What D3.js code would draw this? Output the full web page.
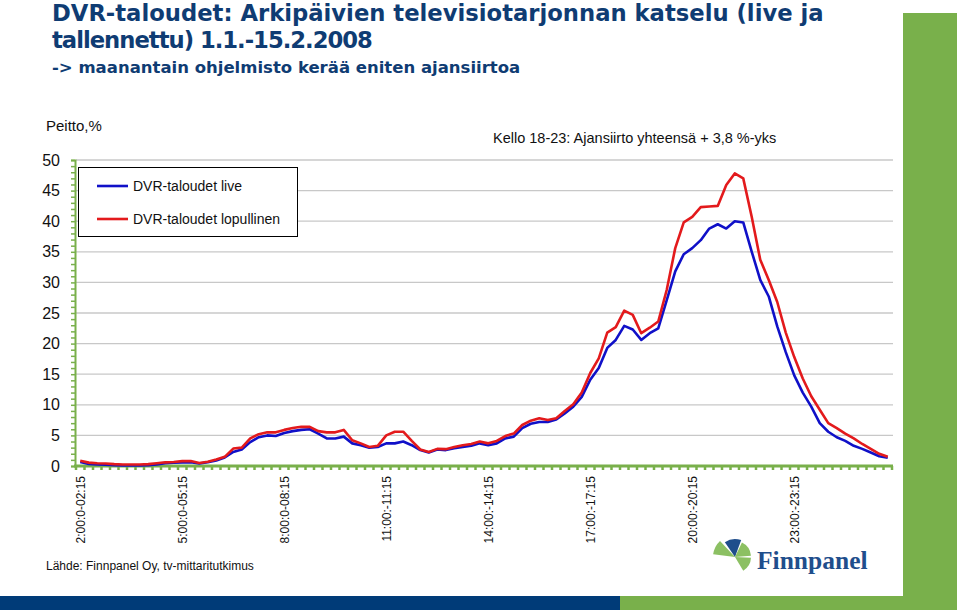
<!DOCTYPE html>
<html><head><meta charset="utf-8">
<script src="https://cdn.jsdelivr.net/npm/d3@7"></script>
<style>body{margin:0;background:#fff}svg{display:block}</style>
</head><body><svg id="c" width="960" height="612" font-family="'Liberation Sans',Arial,sans-serif"></svg>
<script>
// quarter-hour slots, 2:00 .. 1:45 next day
const tickLabels = ["2:00:0-02:15","5:00:0-05:15","8:00:0-08:15","11:00:-11:15","14:00:-14:15","17:00:-17:15","20:00:-20:15","23:00:-23:15"];
const tickIndex = [0,12,24,36,48,60,72,84];
const liveValues = [0.65,0.35,0.25,0.2,0.15,0.1,0.1,0.1,0.15,0.25,0.45,0.55,0.6,0.6,0.4,0.6,0.9,1.4,2.3,2.7,
 3.9,4.7,5.0,4.9,5.4,5.7,5.9,6.0,5.3,4.5,4.5,4.8,3.7,3.4,3.0,3.1,3.7,3.7,4.0,3.4,
 2.6,2.2,2.7,2.6,2.9,3.1,3.3,3.7,3.4,3.7,4.5,4.8,6.2,6.9,7.2,7.2,7.6,8.6,9.7,11.3,
 14.1,16.0,19.3,20.6,22.9,22.3,20.6,21.7,22.5,27.1,31.8,34.6,35.6,36.9,38.8,39.5,38.8,40.0,39.8,35.0,
 30.4,27.7,22.8,18.6,14.8,12.0,9.7,7.0,5.6,4.7,4.1,3.3,2.8,2.2,1.6,1.35];
const finalValues = [0.85,0.55,0.45,0.4,0.3,0.25,0.25,0.25,0.3,0.45,0.6,0.65,0.8,0.8,0.5,0.7,1.05,1.5,2.85,3.0,
 4.5,5.2,5.5,5.5,5.9,6.2,6.4,6.4,5.7,5.5,5.5,5.9,4.2,3.7,3.1,3.3,5.0,5.6,5.6,4.1,
 2.7,2.3,2.8,2.75,3.1,3.4,3.6,4.0,3.7,4.1,4.9,5.3,6.7,7.4,7.8,7.5,7.8,9.0,10.1,12.0,
 15.2,17.6,21.8,22.7,25.4,24.7,21.7,22.6,23.6,28.8,35.6,39.8,40.7,42.3,42.4,42.5,45.9,47.8,47.0,40.7,
 33.7,30.4,26.8,21.8,17.8,14.3,11.4,9.2,7.0,6.2,5.3,4.5,3.6,2.8,2.0,1.5];
const yTicks = [0,5,10,15,20,25,30,35,40,45,50];
const seriesNames = ["DVR-taloudet live","DVR-taloudet lopullinen"];
const seriesColors = ["#1010c8","#e31a1c"];

const categories = [];
for (let k = 0; k < 96; k++) {
  const m = (2*60 + k*15) % (24*60);
  categories.push(Math.floor(m/60) + ":" + String(m%60).padStart(2,"0"));
}

const svg = d3.select("#c");
const green = "#79b04b";
const navy = "#0f3c73";

// decorative bars
svg.append("rect").attr("x",903).attr("y",13).attr("width",54).attr("height",597).attr("fill",green);
svg.append("rect").attr("x",0).attr("y",596).attr("width",620).attr("height",14).attr("fill","#003b78");
svg.append("rect").attr("x",620).attr("y",596).attr("width",337).attr("height",14).attr("fill",green);

// titles
const tf = "'DejaVu Sans',Verdana,sans-serif";
svg.append("text").attr("x",52).attr("y",21).attr("font-size",22.7).attr("font-weight","bold").attr("fill",navy)
  .attr("font-family",tf).text("DVR-taloudet: Arkipäivien televisiotarjonnan katselu (live ja");
svg.append("text").attr("x",52).attr("y",48).attr("font-size",22.7).attr("font-weight","bold").attr("fill",navy)
  .attr("font-family",tf).attr("letter-spacing",-1).text("tallennettu) 1.1.-15.2.2008");
svg.append("text").attr("x",52).attr("y",73).attr("font-size",16.5).attr("font-weight","bold").attr("fill",navy)
  .attr("font-family",tf).text("-> maanantain ohjelmisto kerää eniten ajansiirtoa");

const x = d3.scaleBand().domain(d3.range(96)).range([76,892]);
const y = d3.scaleLinear().domain([0,50]).range([466,160]);
const cx = i => x(i) + x.bandwidth()/2;

// grid
svg.append("g").selectAll("line").data(yTicks.filter(d=>d>0)).join("line")
  .attr("x1",76).attr("x2",893).attr("y1",d=>y(d)).attr("y2",d=>y(d))
  .attr("stroke","#c8c8c8").attr("stroke-width",1.3);

// y axis
const ya = svg.append("g").attr("transform","translate(75,0)")
  .call(d3.axisLeft(y).tickValues(d3.range(0,51,1)).tickSize(4).tickFormat(""));
ya.selectAll("path,line").attr("stroke",green).attr("stroke-width",1.5);
ya.select(".domain").attr("stroke-width",2);
svg.append("g").selectAll("text").data(yTicks).join("text")
  .attr("x",60).attr("y",d=>y(d)+5.5).attr("text-anchor","end").attr("font-size",16).attr("fill","#111")
  .text(d=>d);
svg.append("text").attr("x",46).attr("y",131).attr("font-size",15).attr("fill","#111").text("Peitto,%");

// x axis
const xa = svg.append("g").attr("transform","translate(0,466)");
xa.append("line").attr("x1",74).attr("x2",893).attr("y1",0).attr("y2",0).attr("stroke",green).attr("stroke-width",3);
xa.selectAll("line.t").data(d3.range(97)).join("line").attr("class","t")
  .attr("x1",d=>76+d*x.step()).attr("x2",d=>76+d*x.step()).attr("y1",0).attr("y2",4)
  .attr("stroke",green).attr("stroke-width",2.5);
svg.append("g").selectAll("text").data(tickIndex).join("text")
  .attr("transform",(d)=>`translate(${cx(d)+4.5},476) rotate(-90)`)
  .attr("text-anchor","end").attr("font-size",12).attr("fill","#111")
  .text((d,i)=>tickLabels[i]);

// lines
const line = d3.line().x((d,i)=>cx(i)).y(d=>y(d));
[liveValues, finalValues].forEach((vals,k)=>{
  svg.append("path").datum(vals).attr("d",line).attr("fill","none")
    .attr("stroke",seriesColors[k]).attr("stroke-width",2.6).attr("stroke-linejoin","round");
});

// legend
const lg = svg.append("g");
lg.append("rect").attr("x",78.5).attr("y",167.5).attr("width",219).attr("height",69)
  .attr("fill","#fff").attr("stroke","#000").attr("stroke-width",1);
seriesNames.forEach((n,k)=>{
  const yy = 186 + k*33;
  lg.append("line").attr("x1",97).attr("x2",128).attr("y1",yy).attr("y2",yy)
    .attr("stroke",seriesColors[k]).attr("stroke-width",2.6);
  lg.append("text").attr("x",133).attr("y",yy+5).attr("font-size",14).attr("fill","#111").text(n);
});

// annotation
svg.append("text").attr("x",493).attr("y",143).attr("font-size",14.5).attr("fill","#111")
  .text("Kello 18-23: Ajansiirto yhteensä + 3,8 %-yks");

// source
svg.append("text").attr("x",46).attr("y",570).attr("font-size",12).attr("fill","#111")
  .text("Lähde: Finnpanel Oy, tv-mittaritutkimus");

// logo
const logo = svg.append("g").attr("transform","translate(735,557)");
const wedges = [
  {s:-1.45,e:-0.75,c:"#8cc063",r:22},
  {s:-0.6,e:0.35,c:"#1f4e8c",r:18},
  {s:0.45,e:1.5,c:"#8cc063",r:16},
  {s:1.62,e:2.6,c:"#8cc063",r:16}
];
logo.selectAll("path").data(wedges).join("path")
  .attr("d",d=>d3.arc().innerRadius(0).outerRadius(d.r)({startAngle:d.s,endAngle:d.e})).attr("fill",d=>d.c);
svg.append("text").attr("x",757).attr("y",569).attr("font-size",25.5).attr("font-weight","bold")
  .attr("font-family","'Liberation Serif','DejaVu Serif',serif").attr("fill","#1f4e8c").text("Finnpanel");
</script></body></html>
